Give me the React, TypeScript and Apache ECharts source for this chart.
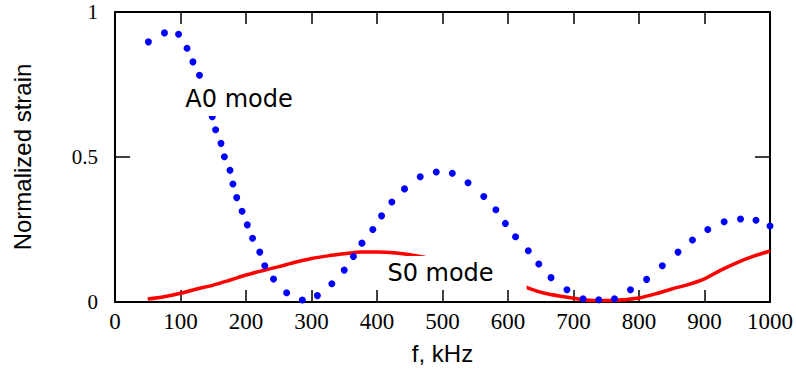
import React, { useEffect, useRef } from "react";
import * as echarts from "echarts";

const xTicks = [0, 100, 200, 300, 400, 500, 600, 700, 800, 900, 1000];
const yTicks = [0, 0.5, 1];

// A0 mode (blue dots) – frequency (kHz)
const a0Freq = [
  51, 75.5, 97, 110, 119, 129, 136, 142, 148.5, 153.6, 161.8, 167, 175.6, 180,
  185.8, 194, 202, 210, 221, 228.6, 242, 262, 286, 309, 331, 350, 364, 377,
  393.6, 407, 422.7, 442, 466, 490.5, 515, 539, 563, 581.5, 596, 611.5, 631,
  647, 665.7, 690, 714.6, 738.6, 762.6, 787, 811.6, 835.6, 859.6, 881.6, 905,
  930, 955, 978.6, 1000,
];
// A0 mode – normalized strain
const a0Strain = [
  0.897, 0.928, 0.923, 0.875, 0.828, 0.782, 0.735, 0.688, 0.639, 0.594, 0.547,
  0.501, 0.454, 0.407, 0.36, 0.313, 0.266, 0.22, 0.172, 0.125, 0.079, 0.032,
  0.007, 0.022, 0.063, 0.11, 0.157, 0.203, 0.25, 0.297, 0.345, 0.39, 0.432,
  0.448, 0.444, 0.411, 0.364, 0.318, 0.271, 0.225, 0.177, 0.131, 0.084, 0.042,
  0.011, 0.008, 0.011, 0.042, 0.078, 0.125, 0.172, 0.214, 0.25, 0.277, 0.286,
  0.282, 0.262,
];
// S0 mode (red line) – frequency (kHz)
const s0Freq = [
  50, 75, 100, 125, 150, 175, 200, 225, 250, 275, 300, 325, 350, 375, 400, 425,
  450, 475, 500, 550, 600, 631, 656, 686, 711, 735, 758, 780, 800, 825, 850,
  875, 900, 925, 950, 975, 1000,
];
// S0 mode – normalized strain
const s0Strain = [
  0.01, 0.018, 0.03, 0.045, 0.058, 0.075, 0.093, 0.108, 0.122, 0.137, 0.15,
  0.159, 0.166, 0.172, 0.172, 0.17, 0.163, 0.153, 0.143, 0.115, 0.078, 0.048,
  0.03, 0.018, 0.009, 0.005, 0.005, 0.009, 0.014, 0.028, 0.045, 0.06, 0.08,
  0.11, 0.136, 0.158, 0.176,
];

const a0Label = "A0 mode";
const s0Label = "S0 mode";
const xTitle = "f, kHz";
const yTitle = "Normalized strain";

const SERIF = "Liberation Serif";
const SANS = "Liberation Sans";

export default function App() {
  const ref = useRef<HTMLDivElement>(null);

  useEffect(() => {
    const host = ref.current;
    if (!host) return;
    const chart = echarts.init(host, undefined, { renderer: "svg" });
    const axisLineStyle = { color: "#000", width: 2 };
    const tickStyle = { color: "#000", width: 1.5 };

    const baseX = {
      type: "value",
      min: xTicks[0],
      max: xTicks[xTicks.length - 1],
      interval: xTicks[1] - xTicks[0],
      axisLine: { show: true, onZero: false, lineStyle: axisLineStyle },
      axisTick: { show: true, inside: true, length: 12, lineStyle: tickStyle },
      splitLine: { show: false },
    };
    const baseY = {
      type: "value",
      min: yTicks[0],
      max: yTicks[yTicks.length - 1],
      interval: yTicks[1] - yTicks[0],
      axisLine: { show: true, onZero: false, lineStyle: axisLineStyle },
      axisTick: { show: true, inside: true, length: 15, lineStyle: tickStyle },
      splitLine: { show: false },
    };

    chart.setOption({
      animation: false,
      backgroundColor: "#fff",
      grid: { left: 115, right: 26, top: 12, bottom: 69, containLabel: false },
      xAxis: [
        {
          ...baseX,
          position: "bottom",
          name: xTitle,
          nameLocation: "middle",
          nameGap: 39,
          nameTextStyle: { fontFamily: SANS, fontSize: 24, color: "#000" },
          axisLabel: {
            show: true,
            fontFamily: SERIF,
            fontSize: 23,
            color: "#000",
            margin: 8,
            formatter: (v: number) => String(v),
          },
        },
        { ...baseX, position: "top", axisLabel: { show: false } },
      ],
      yAxis: [
        {
          ...baseY,
          position: "left",
          name: yTitle,
          nameLocation: "middle",
          nameGap: 81,
          nameTextStyle: { fontFamily: SANS, fontSize: 24, color: "#000" },
          axisLabel: {
            show: true,
            fontFamily: SERIF,
            fontSize: 21,
            color: "#000",
            margin: 17,
            formatter: (v: number) => String(v),
          },
        },
        { ...baseY, position: "right", axisLabel: { show: false } },
      ],
      series: [
        {
          name: s0Label,
          type: "line",
          data: s0Freq.map((f, i) => [f, s0Strain[i]]),
          showSymbol: false,
          smooth: 0.3,
          lineStyle: { color: "#ff0000", width: 3.5 },
          z: 3,
        },
        {
          name: a0Label,
          type: "scatter",
          data: a0Freq.map((f, i) => [f, a0Strain[i]]),
          symbol: "circle",
          symbolSize: 7,
          itemStyle: { color: "#0000ff", opacity: 1 },
          clip: false,
          z: 4,
        },
      ],
      graphic: [
        {
          type: "text",
          x: 239,
          y: 99,
          z: 100,
          style: {
            text: a0Label,
            font: "24px 'DejaVu Sans'",
            fill: "#000",
            align: "center",
            verticalAlign: "middle",
            backgroundColor: "#fff",
            padding: [4, 8, 6, 8],
          },
        },
        {
          type: "text",
          x: 453,
          y: 273,
          z: 100,
          style: {
            text: s0Label,
            font: "24px 'DejaVu Sans'",
            fill: "#000",
            align: "center",
            verticalAlign: "middle",
            backgroundColor: "#fff",
            padding: [3, 33, 7, 8],
          },
        },
      ],
    });

    return () => chart.dispose();
  }, []);

  return <div ref={ref} style={{ width: 796, height: 371, position: "absolute", left: 0, top: 0 }} />;
}
